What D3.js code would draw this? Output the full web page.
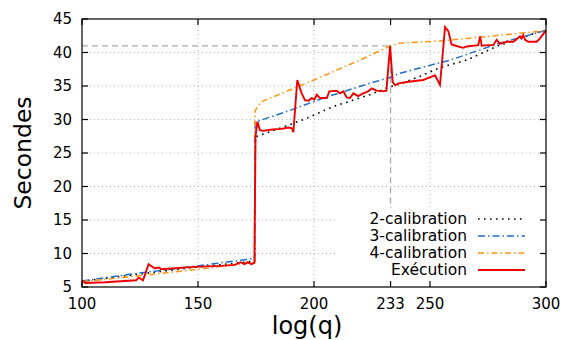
<!DOCTYPE html>
<html>
<head>
<meta charset="utf-8">
<script src="https://cdn.jsdelivr.net/npm/d3@7"></script>
<style>
  body { margin: 0; background: #fff; }
  svg text { font-family: "DejaVu Sans", sans-serif; fill: #000; }
</style>
</head>
<body>
<div class="chart-div"></div>
<script>
// values
var xTicks = [100, 150, 200, 233, 250, 300];
var yTicks = [5, 10, 15, 20, 25, 30, 35, 40, 45];
var xGrid = [150, 200, 250];
var yGrid = [10, 15, 20, 25, 30, 35, 40];
var marker = [233, 41];

var calib2Q = [100, 124, 149, 173, 174.5, 174.6, 187, 197, 208, 217, 224, 233, 238, 246, 254, 266, 280, 297, 300];
var calib2S = [5.85, 6.9, 7.95, 8.8, 8.8, 27.4, 28.9, 30.2, 31.9, 32.9, 33.7, 34.9, 35.4, 36.5, 37.7, 38.9, 41.1, 43.1, 43.3];

var calib3Q = [100, 124, 148.6, 173, 174.5, 174.6, 190, 204, 224, 233, 237, 259, 280, 300];
var calib3S = [5.9, 7.05, 8.1, 9.2, 9.2, 29.6, 31.4, 33.2, 35.4, 36.3, 36.9, 38.9, 41.4, 43.3];

var calib4Q = [100, 124, 148.6, 173, 174.5, 174.6, 177, 200, 220, 233, 237, 254, 266, 300];
var calib4S = [5.8, 6.65, 7.6, 8.6, 8.6, 31.3, 32.6, 35.9, 38.9, 41.0, 41.4, 41.7, 42.1, 43.25];

var execQ = [100, 101.5, 110, 123.3, 124.5, 126.3, 128.7, 131.3, 133.3, 134, 140, 148.6, 160, 165.8, 168.5, 170, 171.4, 173, 174.3,
  174.8, 175.6, 176.7, 178, 182, 186, 189, 190.4, 191.1, 192.8, 194.7, 196.1, 197.6, 199, 200.2, 201.2, 202.6, 205.5, 206.6,
  209.8, 211.2, 212.7, 214.1, 215.5, 217, 219, 221.2, 223.3, 224.9, 227, 229.9, 231.2, 232.8, 233.9, 235, 236.4, 240, 247.1,
  250.7, 252.2, 252.9, 254.3, 256.5, 257.9, 259.3, 262.2, 264.4, 265.8, 270.8, 271.6, 272.3, 275.1, 277.3, 278.7, 280.2, 283,
  285.9, 288.8, 289.5, 290.2, 291, 292.4, 296, 297.4, 300];
var execS = [5.95, 5.6, 5.7, 6.0, 6.4, 6.0, 8.4, 7.8, 7.9, 7.65, 7.8, 8.0, 8.15, 8.3, 8.7, 8.4, 8.7, 8.4, 8.6,
  27.5, 29.7, 28.4, 28.3, 28.5, 28.6, 28.8, 28.7, 28.1, 35.9, 33.9, 32.9, 32.8, 33.2, 33.0, 33.7, 33.2, 33.2, 34.2,
  34.3, 33.9, 34.2, 33.3, 33.2, 33.9, 33.5, 33.9, 34.2, 34.65, 34.3, 34.2, 34.3, 41.0, 35.6, 35.1, 35.4, 35.6, 35.9,
  36.4, 36.6, 36.1, 35.15, 43.8, 43.2, 41.2, 40.9, 40.7, 40.9, 41.1, 42.4, 41.0, 41.1, 41.1, 41.9, 41.3, 41.6,
  41.6, 42.4, 42.1, 42.6, 41.9, 41.6, 41.6, 42.1, 43.3];

var seriesNames = ["2-calibration", "3-calibration", "4-calibration", "Exécution"];

var width = 562, height = 340;
var margin = {top: 19, right: 16, bottom: 53, left: 82};

var svg = d3.select(".chart-div").append("svg")
    .attr("width", width)
    .attr("height", height);

var x = d3.scaleLinear().domain([100, 300]).range([margin.left, width - margin.right]);
var y = d3.scaleLinear().domain([5, 45]).range([height - margin.bottom, margin.top]);

var x0 = x.range()[0], x1 = x.range()[1];
var y0 = y.range()[0], y1 = y.range()[1];

// grid
var grid = svg.append("g")
    .attr("stroke", "#b0b0b0")
    .attr("stroke-width", 1)
    .attr("stroke-dasharray", "1,3");
grid.selectAll("line.gx").data(xGrid).enter().append("line")
    .attr("x1", d => x(d)).attr("x2", d => x(d))
    .attr("y1", y0).attr("y2", y1);
grid.selectAll("line.gy").data(yGrid).enter().append("line")
    .attr("x1", x0).attr("x2", x1)
    .attr("y1", d => y(d)).attr("y2", d => y(d));

// marker lines at 233 / 41
svg.append("path")
    .attr("d", "M" + x0 + "," + y(marker[1]) + "H" + x(marker[0]) + "V" + y0)
    .attr("fill", "none")
    .attr("stroke", "#aaaaaa")
    .attr("stroke-width", 1.3)
    .attr("stroke-dasharray", "6,4");

// legend background hides the grid
svg.append("rect")
    .attr("x", 335).attr("y", 208)
    .attr("width", x1 - 336).attr("height", y0 - 210)
    .attr("fill", "#fff");

// lines
var line = d3.line().x(d => x(d[0])).y(d => y(d[1]));
function pairs(q, s) { return q.map((v, i) => [v, s[i]]); }

var series = [
  {name: seriesNames[0], data: pairs(calib2Q, calib2S), color: "#000000", dash: "1.6,4.4", w: 1.6},
  {name: seriesNames[1], data: pairs(calib3Q, calib3S), color: "#1f6fc9", dash: "7,3,1.5,3", w: 1.5},
  {name: seriesNames[2], data: pairs(calib4Q, calib4S), color: "#ff9410", dash: "6,3,1.5,3", w: 1.5},
  {name: seriesNames[3], data: pairs(execQ, execS), color: "#ee0000", dash: null, w: 1.9}
];

svg.selectAll("path.series").data(series).enter().append("path")
    .attr("class", "series")
    .attr("d", d => line(d.data))
    .attr("fill", "none")
    .attr("stroke", d => d.color)
    .attr("stroke-width", d => d.w)
    .attr("stroke-dasharray", d => d.dash);

// frame + inward ticks on all sides
var frame = svg.append("g").attr("stroke", "#000").attr("stroke-width", 1.2);
frame.append("rect")
    .attr("x", x0).attr("y", y1)
    .attr("width", x1 - x0).attr("height", y0 - y1)
    .attr("fill", "none");
var tl = 6;
xTicks.forEach(function(t) {
  frame.append("line").attr("x1", x(t)).attr("x2", x(t)).attr("y1", y0).attr("y2", y0 - tl);
  frame.append("line").attr("x1", x(t)).attr("x2", x(t)).attr("y1", y1).attr("y2", y1 + tl);
});
yTicks.forEach(function(t) {
  frame.append("line").attr("x1", x0).attr("x2", x0 + tl).attr("y1", y(t)).attr("y2", y(t));
  frame.append("line").attr("x1", x1).attr("x2", x1 - tl).attr("y1", y(t)).attr("y2", y(t));
});

// tick labels
svg.selectAll("text.xt").data(xTicks).enter().append("text")
    .attr("x", d => x(d)).attr("y", y0 + 22)
    .attr("text-anchor", "middle")
    .attr("font-size", 15)
    .text(d => d);
svg.selectAll("text.yt").data(yTicks).enter().append("text")
    .attr("x", x0 - 10).attr("y", d => y(d) + 5)
    .attr("text-anchor", "end")
    .attr("font-size", 15)
    .text(d => d);

// axis titles
svg.append("text")
    .attr("x", 307).attr("y", 334)
    .attr("text-anchor", "middle")
    .attr("font-size", 24)
    .text("log(q)");
svg.append("text")
    .attr("transform", "translate(31," + ((y0 + y1) / 2) + ") rotate(-90)")
    .attr("text-anchor", "middle")
    .attr("font-size", 23.5)
    .text("Secondes");

// legend
var leg = svg.append("g");
series.forEach(function(s, i) {
  var ly = 219 + i * 17;
  leg.append("text")
      .attr("x", 467).attr("y", ly + 5)
      .attr("text-anchor", "end")
      .attr("font-size", 15.5)
      .text(s.name);
  leg.append("line")
      .attr("x1", 478).attr("x2", 525)
      .attr("y1", ly).attr("y2", ly)
      .attr("stroke", s.color)
      .attr("stroke-width", s.w)
      .attr("stroke-dasharray", s.dash);
});
</script>
</body>
</html>
